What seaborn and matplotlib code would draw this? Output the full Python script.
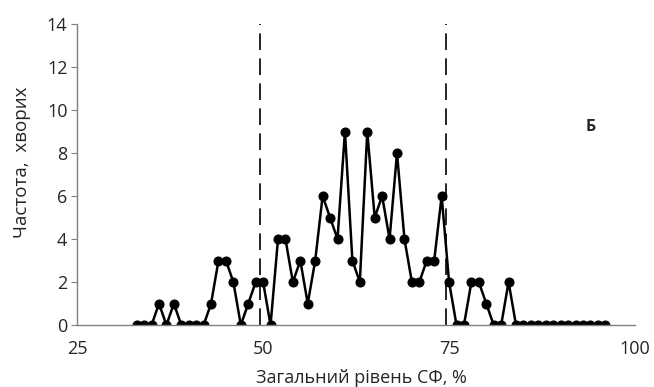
import numpy as np
import matplotlib
matplotlib.use("Agg")
import matplotlib.pyplot as plt
import seaborn as sns
import pandas as pd

sns.set_style("white")
plt.rcParams['font.family'] = ['Open Sans', 'DejaVu Sans']

# level of SF (%) and number of patients
level = list(range(33, 97))
counts = [0, 0, 0, 1, 0, 1, 0, 0, 0, 0, 1, 3, 3, 2, 0, 1, 2, 2, 0,
          4, 4, 2, 3, 1, 3, 6, 5, 4, 9, 3, 2, 9, 5, 6, 4, 8, 4, 2, 2,
          3, 3, 6, 2, 0, 0, 2, 2, 1, 0, 0, 2,
          0, 0, 0, 0, 0, 0, 0, 0, 0, 0, 0, 0, 0]
bounds = [49.6, 74.6]
xticks = [25, 50, 75, 100]
yticks = list(range(0, 15, 2))

df = pd.DataFrame({'level': level, 'count': counts})

fig = plt.figure(figsize=(6.54, 3.87), dpi=100)
ax = fig.add_axes([0.118, 0.160, 0.853, 0.778])

sns.lineplot(x='level', y='count', data=df, ax=ax, color='black',
             linewidth=1.8, marker='o', markersize=6.5, markeredgecolor='black')

for b in bounds:
    ax.axvline(b, color='black', linewidth=1.2, linestyle=(0, (10, 5)))

ax.set_xlim(25, 100)
ax.set_ylim(0, 14)
ax.set_xticks(xticks)
ax.set_yticks(yticks)
ax.tick_params(axis='y', direction='out', length=4, color='#808080', labelsize=13, left=True, pad=3)
ax.tick_params(axis='x', length=0, labelsize=13, pad=11)

for s in ['top', 'right']:
    ax.spines[s].set_visible(False)
for s in ['left', 'bottom']:
    ax.spines[s].set_color('#808080')
    ax.spines[s].set_linewidth(1.0)

ax.set_xlabel('Загальний рівень СФ, %', fontsize=13)
ax.set_ylabel('Частота,  хворих', fontsize=13.5)
ax.xaxis.set_label_coords(0.51, -0.145)
ax.yaxis.set_label_coords(-0.082, 0.54)
ax.text(94, 9.2, 'Б', fontsize=11.5, fontweight='bold', ha='center', va='center')

plt.savefig('out.png', dpi=100)
